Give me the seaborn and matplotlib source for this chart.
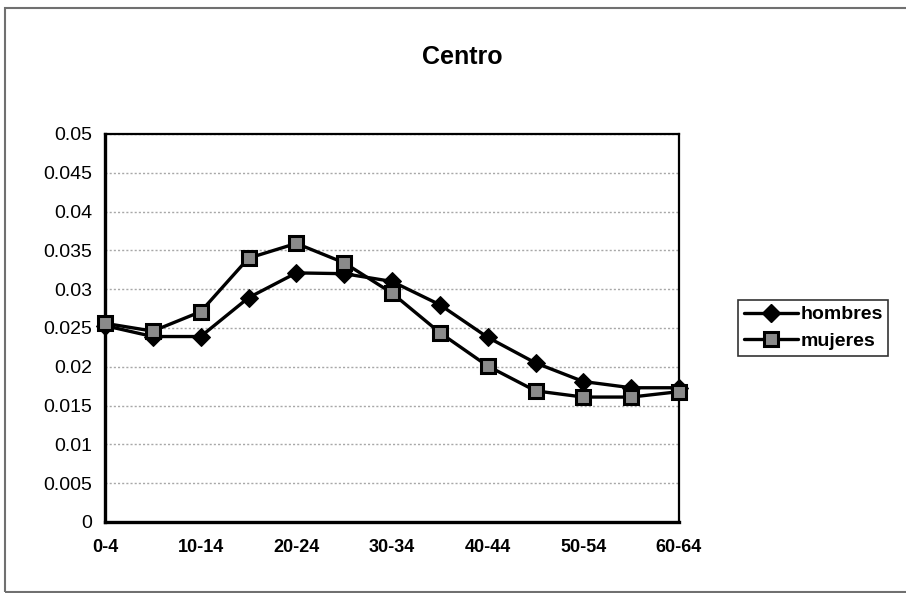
import matplotlib
matplotlib.use("Agg")
import matplotlib.pyplot as plt
from matplotlib.patches import Rectangle
from matplotlib.lines import Line2D
import seaborn as sns
import pandas as pd

categories = ["0-4", "5-9", "10-14", "15-19", "20-24", "25-29", "30-34",
              "35-39", "40-44", "45-49", "50-54", "55-59", "60-64"]
hombres = [0.0253, 0.0239, 0.0239, 0.0289, 0.0321, 0.0320, 0.0310,
           0.0280, 0.0238, 0.0205, 0.0181, 0.0173, 0.0173]
mujeres = [0.0256, 0.0246, 0.0271, 0.0340, 0.0359, 0.0334, 0.0295,
           0.0244, 0.0201, 0.0169, 0.0161, 0.0161, 0.0168]
series_names = ["hombres", "mujeres"]
y_ticks = [0, 0.005, 0.01, 0.015, 0.02, 0.025, 0.03, 0.035, 0.04, 0.045, 0.05]
y_tick_labels = ["0", "0.005", "0.01", "0.015", "0.02", "0.025", "0.03",
                 "0.035", "0.04", "0.045", "0.05"]

rows = []
for name, vals in zip(series_names, [hombres, mujeres]):
    for i, (c, v) in enumerate(zip(categories, vals)):
        rows.append({"pos": i, "grupo": c, "serie": name, "valor": v})
df = pd.DataFrame(rows)

sns.set_style("white")
plt.rcParams["font.family"] = ["Liberation Sans", "DejaVu Sans"]
plt.rcParams["text.color"] = "black"
plt.rcParams["xtick.color"] = "black"
plt.rcParams["ytick.color"] = "black"
plt.rcParams["axes.labelcolor"] = "black"

fig = plt.figure(figsize=(9.06, 5.93), dpi=100)
ax = fig.add_axes([105 / 906, 1 - 522 / 593, (679 - 105) / 906, (522 - 134) / 593])

sns.lineplot(data=df, x="pos", y="valor", hue="serie", style="serie",
             palette={"hombres": "black", "mujeres": "black"},
             markers={"hombres": "D", "mujeres": "s"},
             dashes={"hombres": "", "mujeres": ""},
             linewidth=2.4, markersize=10, ax=ax, legend=False)

lines = ax.get_lines()
lines[0].set_markerfacecolor("black")
lines[0].set_markeredgecolor("black")
lines[0].set_markersize(9)
lines[1].set_markerfacecolor("#8a8a8a")
lines[1].set_markeredgecolor("black")
lines[1].set_markeredgewidth(2.2)
lines[1].set_markersize(10)
for ln in lines:
    ln.set_clip_on(False)
    ln.set_zorder(5)

ax.set_xlim(0, len(categories) - 1)
ax.set_ylim(0, 0.05)
ax.set_yticks(y_ticks)
ax.set_yticklabels(y_tick_labels, fontsize=14, color="black")
ax.set_xticks(range(len(categories)))
ax.set_xticklabels([c if i % 2 == 0 else "" for i, c in enumerate(categories)],
                   fontsize=13, fontweight="bold", color="black")
ax.tick_params(axis="x", direction="inout", length=8, width=1.5, pad=8)
ax.tick_params(axis="y", direction="out", length=5, width=1.5, pad=4)
ax.set_xlabel("")
ax.set_ylabel("")

ax.yaxis.grid(True, linestyle=(0, (1.5, 1.5)), color="#a8a8a8", linewidth=1)
ax.xaxis.grid(False)
ax.set_axisbelow(True)
for s in ax.spines.values():
    s.set_visible(True)
    s.set_color("black")
    s.set_linewidth(1.6)
ax.spines["left"].set_linewidth(2.4)
ax.spines["bottom"].set_linewidth(2.4)

fig.text(462 / 906, 1 - 57 / 593, "Centro", ha="center", va="center",
         fontsize=18, fontweight="bold", color="black")

handles = [Line2D([], [], color="black", lw=2.4, marker="D", markersize=9,
                  markerfacecolor="black", markeredgecolor="black"),
           Line2D([], [], color="black", lw=2.4, marker="s", markersize=10,
                  markerfacecolor="#8a8a8a", markeredgecolor="black",
                  markeredgewidth=2.2)]
leg = fig.legend(handles, series_names, loc="upper left",
                 bbox_to_anchor=(738 / 906, 1 - 300 / 593),
                 bbox_transform=fig.transFigure, borderaxespad=0,
                 frameon=True, fancybox=False, shadow=False,
                 prop={"size": 14, "weight": "bold"},
                 handlelength=2.8, handletextpad=0.1, labelspacing=0.45,
                 borderpad=0.3)
leg.get_frame().set_edgecolor("black")
leg.get_frame().set_linewidth(1.2)
for t in leg.get_texts():
    t.set_color("black")

fig.patches.append(Rectangle((5 / 906, 1 / 593), 1.0, 1 - 9 / 593,
                             transform=fig.transFigure, fill=False,
                             edgecolor="#707070", linewidth=1.5))

fig.savefig("out.png", dpi=100)
